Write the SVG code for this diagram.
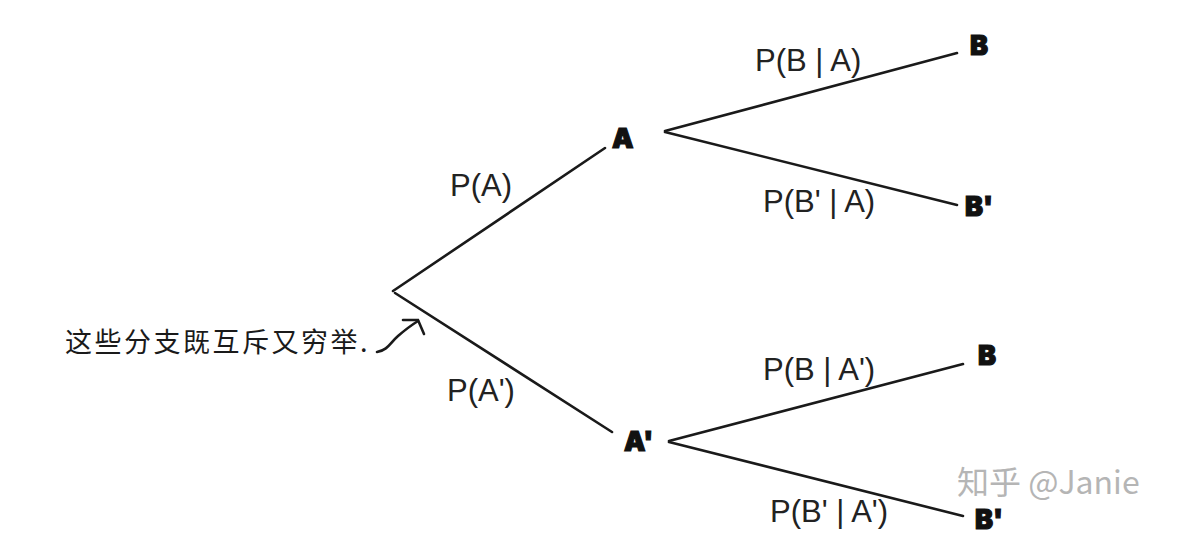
<svg xmlns="http://www.w3.org/2000/svg" width="1196" height="542" viewBox="0 0 1196 542">
  <style>
    .edge { stroke: #1a1a1a; stroke-width: 2.6; fill: none; stroke-linecap: round; }
    .lbl { font-family: "Liberation Sans", Arial, sans-serif; font-size: 31px; fill: #222; }
    .node { font-family: Inter, "DejaVu Sans", sans-serif; font-weight: 900; font-size: 27px; fill: #111; stroke: #111; stroke-width: 1.2px; }
    .hand { font-family: "Noto Sans CJK SC", sans-serif; font-size: 27px; fill: #1a1a1a; letter-spacing: 2.5px; }
    .wm { font-family: "Noto Sans CJK SC", "Liberation Sans", sans-serif; font-size: 32px; fill: #b5b5b5; }
  </style>
  <rect width="1196" height="542" fill="#ffffff"/>
  <text class="wm" x="957" y="494">知乎 @Janie</text>
  <g id="connectors">
    <line class="edge" x1="393" y1="291" x2="605" y2="148"/>
    <line class="edge" x1="395" y1="293" x2="612" y2="432"/>
    <line class="edge" x1="665" y1="131" x2="957" y2="53"/>
    <line class="edge" x1="665" y1="132" x2="957" y2="205"/>
    <line class="edge" x1="669" y1="441" x2="963" y2="364"/>
    <line class="edge" x1="669" y1="442" x2="963" y2="516"/>
    <text class="lbl" x="450" y="196">P(A)</text>
    <text class="lbl" x="447" y="401">P(A')</text>
    <text class="lbl" x="755" y="71">P(B | A)</text>
    <text class="lbl" x="763" y="212">P(B' | A)</text>
    <text class="lbl" x="763" y="380">P(B | A')</text>
    <text class="lbl" x="770" y="522">P(B' | A')</text>
  </g>
  <g id="node-A"><text class="node" x="612" y="148">A</text></g>
  <g id="node-A2"><text class="node" x="624" y="451">A'</text></g>
  <g id="node-B1"><text class="node" x="970" y="55">B</text></g>
  <g id="node-B1p"><text class="node" x="965" y="216">B'</text></g>
  <g id="node-B2"><text class="node" x="978" y="365">B</text></g>
  <g id="node-B2p"><text class="node" x="975" y="529">B'</text></g>
  <g id="note">
    <text class="hand" x="65" y="352">这些分支既互斥又穷举.</text>
    <path class="edge" d="M377,352 C388,350 390,343 398,336 C405,330 410,326 418,321"/>
    <path class="edge" d="M403,320 L418,320 L424,334"/>
  </g>
</svg>
